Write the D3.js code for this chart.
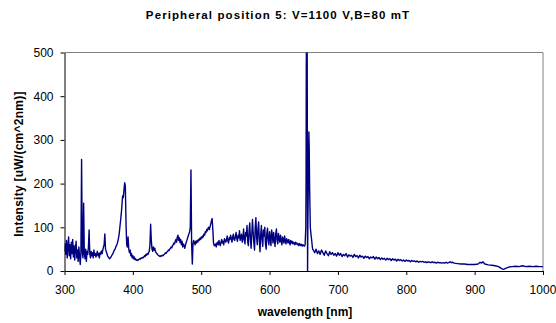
<!DOCTYPE html>
<html><head><meta charset="utf-8">
<script src="https://cdn.jsdelivr.net/npm/d3@7"></script>
<style>body{margin:0;background:#fff}svg{display:block}text{font-family:"Liberation Sans",Arial,sans-serif}</style>
</head><body><svg id="c" width="556" height="323"></svg>
<script>
const title = "Peripheral position 5: V=1100 V,B=80 mT";
const xLabel = "wavelength [nm]";
const yLabel = "Intensity [uW/(cm^2nm)]";
const xTicks = [300,400,500,600,700,800,900,1000];
const yTicks = [0,100,200,300,400,500];

// UV/visible region, 1 nm sampling starting at 300 nm
const segAStart = 300, segAStep = 1;
const segAValues = [
45,62,38,70,30,55,78,35,60,28,66,40,72,32,58,25,50,68,30,48,22,55,35,
15,40,255,45,30,155,40,28,50,22,45,38,55,94,40,30,45,35,42,30,48,36,40,32,38,45,35,40,30,42,38,46,40,48,55,60,85,50,45,40,35,32,30,28,30,32,35,
38,40,45,48,50,55,58,62,68,75,85,100,115,130,150,172,168,185,202,195,110,60,55,78,50,42,48,35,40,30,
35,28,32,26,28,25,24,26,25,27,28,27,30,29,31,30,32,35,33,38,36,40,38,42,45,60,107,70,50,45,
55,48,52,45,42,40,38,36,35,34,33,35,34,36,35,37,38,40,42,41,44,45,48,47,50,52,55,53,58,60,
64,62,68,72,66,78,82,70,76,65,72,60,68,55,62,58,52,60,65,70,75,80,85,90,100,231,60,16,62,70,
65,60,68,64,70,66,72,70,75,72,78,75,80,78,85,82,90,88,95,92,98,100,95,102,108,115,120,95,64,58,
58,62,55,64,66,60,70,62,58,66,72,64,68,60,74,70,66,72,80,68,
64,76,72,82,74,66,78,84,72,70,80,88,74,68,82,76,92,70,78,84,
66,74,96,72,62,88,80,104,66,58,92,110,74,52,84,118,90,64,48,100,
122,78,60,96,112,70,44,82,104,72,56,94,80,100,62,50,86,98,70,60,
90,76,58,94,82,64,88,72,56,84,96,70,62,86,74,66,82,70,60,78,
72,64,80,68,62,74,70,64,72,66,60,70,64,68,62,66,64,60,66,62,
64,60,62,58,63,60,58,61,57,60,58,57
];

// H-alpha region, irregular sampling
const halphaNm = [652,652.5,653,653.4,653.7,654.2,655,655.6,656,657.5,658,658.6,659.6,660.5,661.5,662.5,663];
const halphaValues = [60,80,100,210,470,560,540,0,100,318,280,192,100,85,72,56,50];

// red / near-IR region, 2 nm sampling starting at 664 nm
const segBStart = 664, segBStep = 2;
const segBValues = [
48,42,50,40,46,38,48,42,36,46,40,35,44,38,42,36,40,34,42,36,40,33,38,35,40,32,37,34,36,31,
38,33,35,30,36,32,34,29,34,31,33,28,32,30,33,27,32,28,31,26,30,27,29,25,29,26,28,24,28,25,
27,23,27,24,26,23,25,22,25,23,24,21,24,22,23,21,23,20,22,21,22,20,21,19,21,20,19,21,19,20,
18,20,19,19,18,19,18,20,18,19,21,19,20,18
];

// tail, irregular sampling
const tailNm = [875,880,885,890,895,900,905,908,910,912,915,920,925,930,935,940,943,945,950,955,960,965,970,975,980,985,990,995,1000];
const tailValues = [17,16,16,15,15,15,16,20,18,21,16,14,13,12,10,5,4,6,9,10,11,10,12,10,11,10,11,10,10];

const data = [];
segAValues.forEach((v,i)=>data.push([segAStart+i*segAStep, v]));
halphaNm.forEach((n,i)=>data.push([n, halphaValues[i]]));
segBValues.forEach((v,i)=>data.push([segBStart+i*segBStep, v]));
tailNm.forEach((n,i)=>data.push([n, tailValues[i]]));

const svg = d3.select("#c");
const L=64.5, R=543, T=52.5, B=271;
const x = d3.scaleLinear().domain([300,1000]).range([L,R]);
const y = d3.scaleLinear().domain([0,500]).range([B,T]);

svg.append("defs").append("clipPath").attr("id","clip")
  .append("rect").attr("x",L).attr("y",T).attr("width",R-L).attr("height",B-T);

// plot border (top & right)
svg.append("path").attr("d",`M${L},${T}H${R}V${B}`).attr("fill","none").attr("stroke","#808080").attr("stroke-width",1);

svg.append("path").datum(data)
  .attr("clip-path","url(#clip)")
  .attr("fill","none").attr("stroke","#000080").attr("stroke-width",1.4).attr("stroke-linejoin","round")
  .attr("d", d3.line().x(d=>x(d[0])).y(d=>y(d[1])));

const fmt = d3.format("d");
const xa = svg.append("g").attr("transform",`translate(0,${B})`)
  .call(d3.axisBottom(x).tickValues(xTicks).tickFormat(fmt).tickSize(4).tickSizeOuter(0).tickPadding(10));
const ya = svg.append("g").attr("transform",`translate(${L},0)`)
  .call(d3.axisLeft(y).tickValues(yTicks).tickFormat(fmt).tickSize(4).tickSizeOuter(0).tickPadding(7));
[xa,ya].forEach(g=>{
  g.selectAll("path,line").attr("stroke","#000");
  g.selectAll("text").attr("font-size","12px").attr("fill","#000").attr("font-family","'Liberation Sans',Arial,sans-serif");
});
// last x label sits flush against the right edge, as in the reference
xa.selectAll(".tick text").filter(d=>d===1000).attr("text-anchor","end").attr("x",12.8);

svg.append("text").attr("x",278).attr("y",18.5).attr("text-anchor","middle")
  .attr("font-size","11.5px").attr("font-weight","bold").attr("letter-spacing","1.1px").text(title);
svg.append("text").attr("x",305).attr("y",316).attr("text-anchor","middle")
  .attr("font-size","12px").attr("font-weight","bold").text(xLabel);
svg.append("text").attr("transform","translate(23,164) rotate(-90)").attr("text-anchor","middle")
  .attr("font-size","12px").attr("font-weight","bold").attr("letter-spacing","0.25px").text(yLabel);
</script></body></html>
